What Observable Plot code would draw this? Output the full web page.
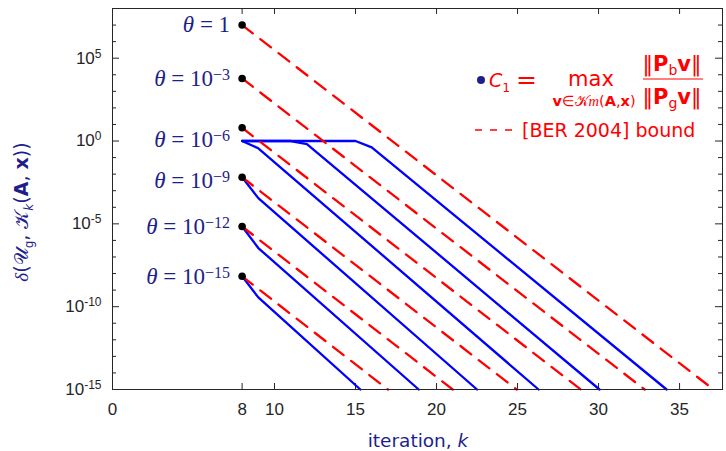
<!DOCTYPE html>
<html><head><meta charset="utf-8">
<script src="https://cdn.jsdelivr.net/npm/d3@7"></script>
<script src="https://cdn.jsdelivr.net/npm/@observablehq/plot@0.6"></script>
<style>
body{margin:0;background:#fff}
#chart{position:relative;width:726px;height:451px}
</style>
</head><body><div id="chart"></div>
<script>
// ---- data ----
const thetaExps   = ["", "\u22123", "\u22126", "\u22129", "\u221212", "\u221215"]; // θ = 1, 10^-3, ...
const thetaBases  = ["1", "10", "10", "10", "10", "10"];
const startIter   = 8;
const dotValues   = [1e7, 6.0e3, 6.3, 6.5e-3, 6.9e-6, 6.8e-9];       // black dots at k = 8
const labelValues = [1e7, 6.0e3, 1.3, 4.0e-3, 6.9e-6, 6.8e-9];       // where the θ labels sit
// red dashed bound: from the dot down to 1e-15 at these iterations
const redEndIter  = [37.1, 32.85, 28.9, 24.95, 21.0, 17.0];
const redEndValue = 1e-15;
// blue curves (vertices)
const blueIters = [
  [8, 15, 16, 34.2],
  [8, 11, 12, 30.06],
  [8, 9, 26.3],
  [8, 9, 22.5],
  [8, 9, 18.9],
  [8, 9, 15.3]
];
const blueValues = [
  [1, 1, 0.41, 1e-15],
  [1, 1, 0.66, 1e-15],
  [1, 0.363, 1e-15],
  [6.5e-3, 3.55e-4, 1e-15],
  [6.9e-6, 3.47e-7, 1e-15],
  [6.8e-9, 3.63e-10, 1e-15]
];
const xTicks = [0, 8, 10, 15, 20, 25, 30, 35];
const yMajor = [1e-15, 1e-10, 1e-5, 1, 1e5];
const yMajorExps = ["-15", "-10", "-5", "0", "5"];
const yMinor = [1e-14,1e-13,1e-12,1e-11,1e-9,1e-8,1e-7,1e-6,1e-4,1e-3,1e-2,1e-1,1e1,1e2,1e3,1e4,1e6,1e7];

// ---- build tables ----
const redData = [];
dotValues.forEach((v, i) => {
  redData.push({s: i, k: startIter, v});
  redData.push({s: i, k: redEndIter[i], v: redEndValue});
});
const blueData = [];
blueIters.forEach((ks, i) => ks.forEach((k, j) => blueData.push({s: i, k, v: blueValues[i][j]})));
const dotData = dotValues.map((v, i) => ({k: startIter, v, i}));
const labelData = labelValues.map((v, i) => ({k: startIter, v, i}));

const W = 726, H = 451, ML = 112, MR = 4, MT = 8, MB = 62;
const FW = W - ML - MR, FH = H - MT - MB;
const AX = "#262626", NAVY = "#1e1e8c", RED = "#ff0000", BLUE = "#0000ff";

const chart = Plot.plot({
  width: W, height: H,
  marginLeft: ML, marginRight: MR, marginTop: MT, marginBottom: MB,
  style: {fontFamily: "'Liberation Sans', Arial, sans-serif", fontSize: "17px", color: AX, background: "white"},
  x: {domain: [0, 37.65]},
  y: {type: "log", domain: [1e-15, 1e8]},
  marks: [
    Plot.axisY(yMajor, {tickSize: 0, tickPadding: 11, tickFormat: () => "10", fontSize: 17, label: null, fill: AX}),
    Plot.axisX(xTicks, {tickSize: 0, tickPadding: 13, tickFormat: d => String(d), fontSize: 17, label: null, fill: AX}),
    // inward ticks (left/right/bottom/top)
    Plot.tickY(yMajor, {y: d => d, insetRight: FW - 7, stroke: AX}),
    Plot.tickY(yMinor, {y: d => d, insetRight: FW - 4, stroke: AX}),
    Plot.tickY(yMajor, {y: d => d, insetLeft: FW - 7, stroke: AX}),
    Plot.tickY(yMinor, {y: d => d, insetLeft: FW - 4, stroke: AX}),
    Plot.tickX(xTicks, {x: d => d, insetTop: FH - 6, stroke: AX}),
    Plot.tickX(xTicks, {x: d => d, insetBottom: FH - 6, stroke: AX}),
    Plot.line(blueData, {x: "k", y: "v", z: "s", stroke: BLUE, strokeWidth: 2.3, curve: "linear"}),
    Plot.line(redData, {x: "k", y: "v", z: "s", stroke: RED, strokeWidth: 2.3, strokeDasharray: "13.5,9.5"}),
    Plot.dot(dotData, {x: "k", y: "v", r: 3.8, fill: "black", stroke: "none"}),
    Plot.text(labelData, {x: "k", y: "v", text: d => "θ", dx: -12, textAnchor: "end", fill: NAVY,
      fontSize: 23, fontFamily: "'Liberation Serif', serif"}),
    Plot.frame({stroke: AX, strokeWidth: 1})
  ]
});
document.getElementById("chart").appendChild(chart);

const svg = d3.select(chart);
// superscripts on y tick labels
svg.selectAll('g[aria-label="y-axis tick label"] text').each(function(d, i) {
  const t = d3.select(this);
  t.text("10");
  t.append("tspan").attr("dy", "-0.5em").attr("font-size", "12px").text(yMajorExps[i]);
});
// theta labels with math layout
svg.selectAll('g[aria-label="text"] text').each(function(d, i) {
  const t = d3.select(this);
  t.text("");
  t.append("tspan").attr("font-style", "italic").text("θ");
  t.append("tspan").text(" = ");
  t.append("tspan").text(thetaBases[i]);
  if (thetaExps[i]) t.append("tspan").attr("dy", "-0.36em").attr("font-size", "16px").text(thetaExps[i]);
});

// x label
const xl = svg.append("text").attr("x", 418).attr("y", 447).attr("text-anchor", "middle")
  .attr("fill", NAVY).attr("font-family", "'DejaVu Sans', sans-serif").attr("font-size", 18.5);
xl.append("tspan").text("iteration, ");
xl.append("tspan").attr("font-style", "italic").text("k");

// y label
const yl = svg.append("text").attr("transform", "translate(28,212) rotate(-90)").attr("text-anchor", "middle")
  .attr("fill", NAVY).attr("font-family", "'DejaVu Sans', sans-serif").attr("font-size", 19);
yl.append("tspan").attr("font-family", "'Liberation Serif', serif").attr("font-style", "italic").text("δ");
yl.append("tspan").text("(𝒰");
yl.append("tspan").attr("dy", 5).attr("font-size", 12).text("g");
yl.append("tspan").attr("dy", -5).text(", 𝒦");
yl.append("tspan").attr("dy", 5).attr("font-size", 12).attr("font-style", "italic").text("k");
yl.append("tspan").attr("dy", -5).text("(");
yl.append("tspan").attr("font-weight", "bold").text("A");
yl.append("tspan").text(", ");
yl.append("tspan").attr("font-weight", "bold").text("x");
yl.append("tspan").text("))");

// legend
const lg = svg.append("g").attr("fill", RED).attr("font-family", "'DejaVu Sans', sans-serif").attr("text-anchor", "start");
lg.append("circle").attr("cx", 481).attr("cy", 80).attr("r", 4).attr("fill", NAVY);
const c1 = lg.append("text").attr("x", 489).attr("y", 87).attr("font-size", 19).attr("text-anchor", "start");
c1.append("tspan").attr("font-style", "italic").text("C");
c1.append("tspan").attr("dy", 5).attr("font-size", 12.5).text("1");
lg.append("text").attr("x", 516).attr("y", 88).attr("font-size", 25).attr("text-anchor", "start")
  .attr("font-family", "'DejaVu Serif', serif").text("=");
lg.append("text").attr("x", 591).attr("y", 86).attr("font-size", 21).attr("text-anchor", "middle").text("max");
const sub = lg.append("text").attr("x", 594).attr("y", 106).attr("font-size", 14.5).attr("text-anchor", "middle");
sub.append("tspan").attr("font-weight", "bold").text("v");
sub.append("tspan").text("∈𝒦");
sub.append("tspan").attr("font-style", "italic").attr("font-family", "'Liberation Serif', serif").text("m");
sub.append("tspan").text("(");
sub.append("tspan").attr("font-weight", "bold").text("A");
sub.append("tspan").text(",");
sub.append("tspan").attr("font-weight", "bold").text("x");
sub.append("tspan").text(")");
function normText(y, s) {
  const t = lg.append("text").attr("x", 672).attr("y", y).attr("font-size", 21).attr("text-anchor", "middle");
  t.append("tspan").text("‖");
  t.append("tspan").attr("font-weight", "bold").text("P");
  t.append("tspan").attr("dy", 4).attr("font-size", 14).text(s);
  t.append("tspan").attr("dy", -4).attr("font-weight", "bold").text("v");
  t.append("tspan").text("‖");
}
normText(71, "b");
normText(104, "g");
lg.append("line").attr("x1", 643).attr("x2", 703).attr("y1", 79).attr("y2", 79).attr("stroke", RED).attr("stroke-width", 1.2);
lg.append("line").attr("x1", 475).attr("x2", 514).attr("y1", 130).attr("y2", 130).attr("stroke", RED).attr("stroke-width", 1.6).attr("stroke-dasharray", "7,8");
lg.append("text").attr("x", 522).attr("y", 137).attr("font-size", 19).attr("text-anchor", "start").text("[BER 2004] bound");
</script>
</body></html>
